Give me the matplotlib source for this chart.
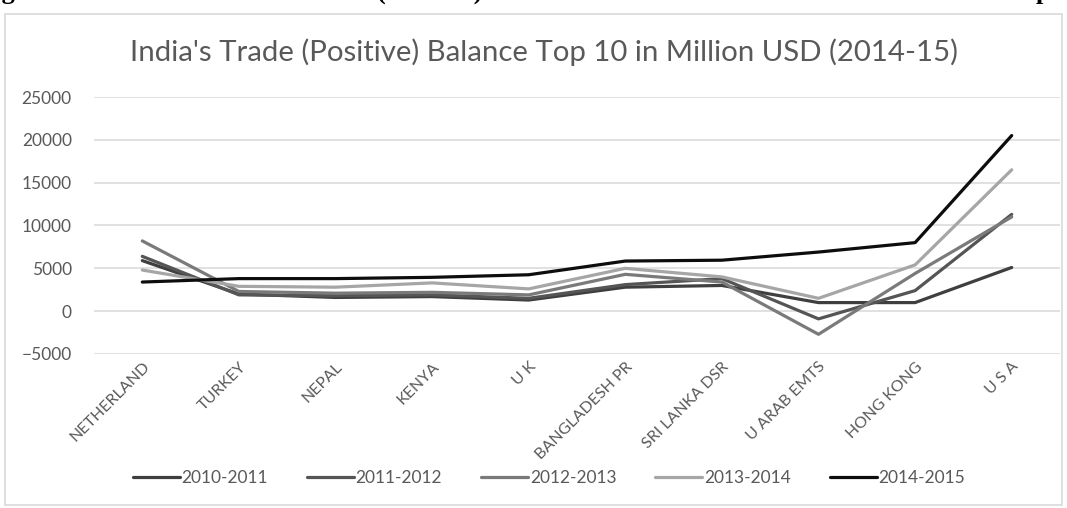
import numpy as np
import matplotlib.pyplot as plt
from matplotlib.patches import Rectangle

# trade balance of India with its top partners, million USD
countries = ["NETHERLAND", "TURKEY", "NEPAL", "KENYA", "U K", "BANGLADESH PR",
             "SRI LANKA DSR", "U ARAB EMTS", "HONG KONG", "U S A"]
years = ["2010-2011", "2011-2012", "2012-2013", "2013-2014", "2014-2015"]
bal_2010_11 = [5900, 2000, 1600, 1700, 1300, 2800, 3000, 1000, 1000, 5100]
bal_2011_12 = [6400, 1900, 1800, 1900, 1500, 3100, 3800, -900, 2400, 11300]
bal_2012_13 = [8200, 2300, 2100, 2200, 1900, 4300, 3400, -2700, 4400, 11000]
bal_2013_14 = [4800, 2900, 2800, 3300, 2600, 5000, 4000, 1500, 5400, 16500]
bal_2014_15 = [3400, 3800, 3800, 3950, 4250, 5850, 5950, 6900, 8000, 20500]
series = [bal_2010_11, bal_2011_12, bal_2012_13, bal_2013_14, bal_2014_15]
colors = ["#3f3f3f", "#555555", "#7a7a7a", "#a6a6a6", "#0d0d0d"]

plt.rcParams["font.family"] = ["Lato", "DejaVu Sans"]
txt = "#595959"

fig = plt.figure(figsize=(10.67, 5.08), dpi=100)
W, H = 1067.0, 508.0

# outer chart frame
fig.patches.append(Rectangle((5 / W, 1 - 505 / H), 1057 / W, 491 / H,
                             transform=fig.transFigure, fill=False,
                             edgecolor="#d9d9d9", linewidth=1.2))

# caption line of the page, mostly cut off above the frame
cap_kw = dict(family="Liberation Serif", fontweight="bold", fontsize=19,
              va="baseline", color="black")
cap_y = 1 + 1 / H
fig.text(-22 / W, cap_y, "Figure 4: India's Trade Balance", ha="left", **cap_kw)
fig.text(377 / W, cap_y, "(Positive) Balance of Ten", ha="left", **cap_kw)
fig.text(1036 / W, cap_y, "parison", ha="left", **cap_kw)

ax = fig.add_axes([94 / W, 1 - 354 / H, (1060 - 94) / W, (354 - 97) / H])
x = np.arange(len(countries))
for vals, name, c in zip(series, years, colors):
    ax.plot(x, vals, color=c, linewidth=2.3, label=name, solid_capstyle="round")

ax.set_xlim(-0.5, len(countries) - 0.5)
ax.set_ylim(-5000, 25000)
ax.set_yticks(np.arange(-5000, 25001, 5000))
ax.yaxis.grid(True, color="#d9d9d9", linewidth=1.1)
ax.set_axisbelow(True)
for s in ax.spines.values():
    s.set_visible(False)
ax.tick_params(axis="y", length=0, pad=16, labelsize=12.5, labelcolor=txt)
ax.tick_params(axis="x", length=0, pad=4, labelsize=11.5, labelcolor=txt)
ax.set_xticks(x)
ax.set_xticklabels(countries, rotation=45, ha="right", rotation_mode="anchor")

fig.text(544 / W, 1 - 52 / H,
         "India's Trade (Positive) Balance Top 10 in Million USD (2014-15)",
         ha="center", va="center", fontsize=21.2, color=txt)

fig.legend(loc="center", bbox_to_anchor=(549 / W, 1 - 478 / H), ncol=5,
           frameon=False, fontsize=12.5, handlelength=2.7, columnspacing=2.25,
           handletextpad=0.1, labelcolor=txt)

fig.savefig("out.png", dpi=100)
